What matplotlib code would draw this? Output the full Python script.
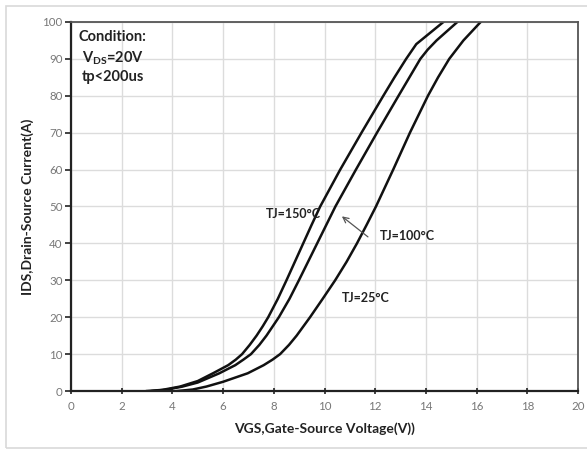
import matplotlib.pyplot as plt
from matplotlib.patches import Rectangle

# Transfer characteristics (TJ = 150, 100, 25 degC)
ids_150 = [0.0, 0.3, 1.2, 2.7, 4.8, 7.0, 8.5, 10.0, 12.5, 15.0, 17.5, 20.0, 25.0, 30.0,
           35.0, 40.0, 45.0, 50.0, 60.0, 70.0, 80.0, 85.0, 90.0, 94.0, 100.0]
vgs_150 = [3.0, 3.6, 4.3, 5.0, 5.6, 6.2, 6.5, 6.75, 7.05, 7.32, 7.56, 7.78, 8.16, 8.5,
           8.83, 9.16, 9.49, 9.83, 10.62, 11.46, 12.32, 12.76, 13.22, 13.62, 14.69]

ids_100 = [0.0, 0.4, 1.2, 2.3, 4.8, 7.0, 8.5, 10.0, 12.5, 15.0, 20.0, 25.0, 30.0, 35.0,
           40.0, 45.0, 50.0, 60.0, 70.0, 80.0, 85.0, 90.0, 92.5, 95.0, 100.0]
vgs_100 = [3.2, 3.8, 4.4, 5.0, 5.85, 6.48, 6.8, 7.1, 7.43, 7.71, 8.2, 8.62, 8.99, 9.35,
           9.71, 10.07, 10.43, 11.24, 12.07, 12.92, 13.35, 13.78, 14.07, 14.42, 15.24]

ids_25 = [0.0, 0.4, 1.2, 2.5, 4.8, 7.0, 8.5, 10.0, 12.5, 15.0, 20.0, 25.0, 30.0, 35.0,
          40.0, 45.0, 50.0, 60.0, 70.0, 80.0, 85.0, 90.0, 95.0, 100.0]
vgs_25 = [4.2, 4.8, 5.34, 6.0, 6.97, 7.6, 7.95, 8.25, 8.6, 8.9, 9.43, 9.93, 10.42, 10.87,
          11.28, 11.66, 12.03, 12.71, 13.37, 14.08, 14.48, 14.92, 15.48, 16.16]

xticks = list(range(0, 21, 2))
yticks = list(range(0, 101, 10))

plt.rcParams['font.family'] = ['Lato', 'DejaVu Sans']

fig = plt.figure(figsize=(5.87, 4.51), dpi=100)
ax = fig.add_axes([71 / 587, 60 / 451, 507 / 587, 369 / 451])

# light frame round the whole picture
fig.patches.append(Rectangle((6 / 587, 3 / 451), 590 / 587, 442 / 451,
                             transform=fig.transFigure, fill=False,
                             edgecolor='#d9d9d9', linewidth=1.2))

for x, y in [(vgs_150, ids_150), (vgs_100, ids_100), (vgs_25, ids_25)]:
    ax.plot(x, y, color='#111111', linewidth=1.8, solid_joinstyle='round')

ax.set_xlim(0, 20)
ax.set_ylim(0, 100)
ax.set_xticks(xticks)
ax.set_yticks(yticks)
ax.grid(True, color='#dcdcdc', linewidth=1.0)
ax.set_axisbelow(True)

for side in ['bottom', 'left']:
    ax.spines[side].set_linewidth(1.6)
    ax.spines[side].set_color('#222222')
for side in ['top', 'right']:
    ax.spines[side].set_linewidth(1.3)
    ax.spines[side].set_color('#555555')

ax.tick_params(axis='x', direction='inout', length=5, width=1.2, colors='#222222',
               labelcolor='#777777', labelsize=8.3, pad=5)
ax.tick_params(axis='y', direction='out', length=4, width=1.2, colors='#222222',
               labelcolor='#777777', labelsize=8.3, pad=2)

ax.set_xlabel('VGS,Gate-Source Voltage(V))', fontsize=10, fontweight='bold',
              color='#222222', labelpad=7)
ax.set_ylabel('IDS,Drain-Source Current(A)', fontsize=10, fontweight='bold',
              color='#222222', labelpad=6)

# condition box text
ax.text(0.3, 94.8, 'Condition:', fontsize=10.5, fontweight='bold', color='#222222')
ax.text(1.65, 89.0, r'V$_{\mathregular{DS}}$=20V', fontsize=10.5, fontweight='bold',
        color='#222222', ha='center')
ax.text(1.65, 84.0, 'tp<200us', fontsize=10.5, fontweight='bold', color='#222222',
        ha='center')

ax.text(9.85, 48.0, 'TJ=150°C', fontsize=9, fontweight='bold', color='#222222',
        ha='right', va='center')
ax.text(12.2, 42.0, 'TJ=100°C', fontsize=9, fontweight='bold', color='#222222',
        va='center')
ax.text(10.7, 25.2, 'TJ=25°C', fontsize=9, fontweight='bold', color='#222222',
        va='center')
ax.annotate('', xy=(10.6, 47.8), xytext=(11.8, 41.3),
            arrowprops=dict(arrowstyle='->', color='#555555', lw=0.9))

fig.savefig('out.png', dpi=100)
